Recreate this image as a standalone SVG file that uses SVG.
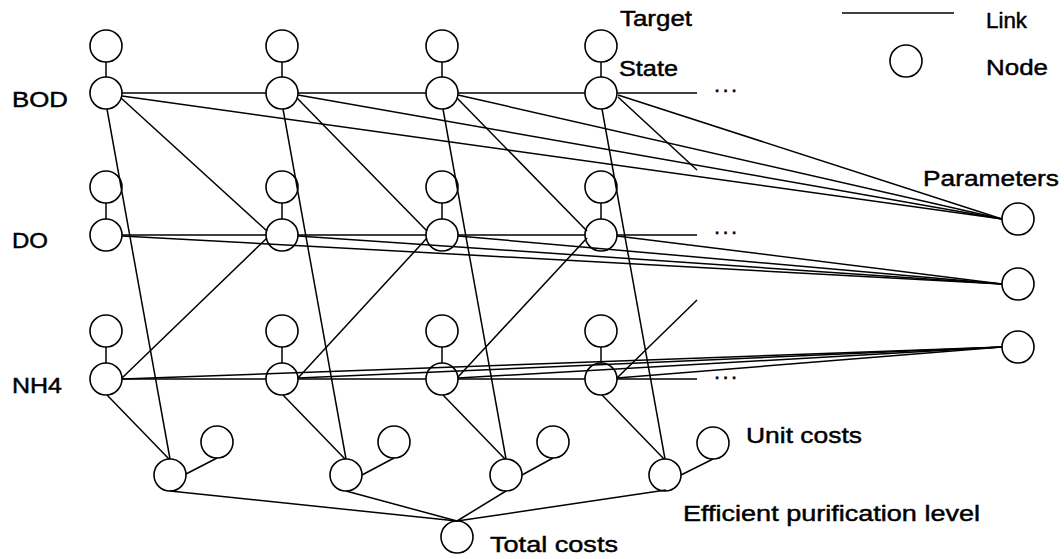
<svg xmlns="http://www.w3.org/2000/svg" width="1064" height="559" viewBox="0 0 1064 559">
<style>
.n{fill:none;stroke:#000;stroke-width:1.6}
.c line{stroke:#000;stroke-width:1.5;fill:none}
text{font-family:"Liberation Sans",Arial,sans-serif;font-size:22px;fill:#000;stroke:#000;stroke-width:0.45}
</style>
<rect width="1064" height="559" fill="#fff"/>
<g id="connectors" class="c">
<!-- target-state -->
<line x1="106" y1="62" x2="106" y2="77"/><line x1="282" y1="62" x2="282" y2="77"/><line x1="442" y1="62" x2="442" y2="77"/><line x1="601" y1="62" x2="601" y2="77"/>
<line x1="106" y1="203" x2="106" y2="219"/><line x1="282" y1="203" x2="282" y2="219"/><line x1="442" y1="203" x2="442" y2="219"/><line x1="601" y1="203" x2="601" y2="219"/>
<line x1="106" y1="347" x2="106" y2="363"/><line x1="282" y1="347" x2="282" y2="363"/><line x1="442" y1="347" x2="442" y2="363"/><line x1="601" y1="347" x2="601" y2="363"/>
<!-- rows -->
<line x1="122" y1="93" x2="266" y2="93"/><line x1="298" y1="93" x2="426" y2="93"/><line x1="458" y1="93" x2="585" y2="93"/><line x1="617" y1="93" x2="697" y2="93"/>
<line x1="122" y1="235" x2="266" y2="235"/><line x1="298" y1="235" x2="426" y2="235"/><line x1="458" y1="235" x2="585" y2="235"/><line x1="617" y1="235" x2="697" y2="235"/>
<line x1="122" y1="379" x2="266" y2="379"/><line x1="298" y1="379" x2="426" y2="379"/><line x1="458" y1="379" x2="585" y2="379"/><line x1="617" y1="379" x2="697" y2="379"/>
<!-- BOD -> next DO -->
<line x1="121" y1="98" x2="267" y2="231"/><line x1="297" y1="98" x2="427" y2="231"/><line x1="457" y1="98" x2="587" y2="231"/><line x1="618" y1="97" x2="697" y2="170"/>
<!-- NH4 -> next DO -->
<line x1="122" y1="378" x2="267" y2="238"/><line x1="298" y1="378" x2="427" y2="238"/><line x1="458" y1="377" x2="587" y2="238"/><line x1="617" y1="378" x2="697" y2="300"/>
<!-- BOD -> cost -->
<line x1="107" y1="109" x2="170" y2="459"/><line x1="283" y1="109" x2="346" y2="459"/><line x1="443" y1="109" x2="506" y2="459"/><line x1="602" y1="109" x2="665" y2="459"/>
<!-- NH4 -> cost -->
<line x1="107" y1="395" x2="169" y2="459"/><line x1="283" y1="395" x2="345" y2="459"/><line x1="443" y1="395" x2="505" y2="459"/><line x1="602" y1="395" x2="664" y2="459"/>
<!-- cost -> unit -->
<line x1="186" y1="474" x2="217" y2="458"/><line x1="362" y1="475" x2="394" y2="458"/><line x1="522" y1="475" x2="553" y2="458"/><line x1="681" y1="475" x2="713" y2="459"/>
<!-- cost -> total -->
<line x1="170" y1="491" x2="457" y2="521"/><line x1="346" y1="491" x2="457" y2="521"/><line x1="506" y1="491" x2="457" y2="521"/><line x1="666" y1="490" x2="457" y2="521"/>
<!-- to parameters -->
<line x1="122" y1="96" x2="1002" y2="219"/><line x1="298" y1="95" x2="1002" y2="219"/><line x1="458" y1="95" x2="1002" y2="219"/><line x1="618" y1="95" x2="1002" y2="219"/>
<line x1="122" y1="236" x2="1002" y2="284"/><line x1="298" y1="236" x2="1002" y2="284"/><line x1="458" y1="236" x2="1002" y2="284"/><line x1="617" y1="236" x2="1002" y2="284"/>
<line x1="122" y1="379" x2="1002" y2="347"/><line x1="298" y1="378" x2="1002" y2="347"/><line x1="458" y1="378" x2="1002" y2="347"/><line x1="617" y1="378" x2="1002" y2="347"/>
<!-- legend link -->
<line x1="842" y1="13" x2="954" y2="13"/>
</g>
<g id="bod-t1"><circle class="n" cx="106" cy="46" r="16"/></g>
<g id="bod-t2"><circle class="n" cx="282" cy="46" r="16"/></g>
<g id="bod-t3"><circle class="n" cx="442" cy="46" r="16"/></g>
<g id="bod-t4"><circle class="n" cx="601" cy="46" r="16"/></g>
<g id="bod-s1"><circle class="n" cx="106" cy="93" r="16"/></g>
<g id="bod-s2"><circle class="n" cx="282" cy="93" r="16"/></g>
<g id="bod-s3"><circle class="n" cx="442" cy="93" r="16"/></g>
<g id="bod-s4"><circle class="n" cx="601" cy="93" r="16"/></g>
<g id="do-t1"><circle class="n" cx="106" cy="187" r="16"/></g>
<g id="do-t2"><circle class="n" cx="282" cy="187" r="16"/></g>
<g id="do-t3"><circle class="n" cx="442" cy="187" r="16"/></g>
<g id="do-t4"><circle class="n" cx="601" cy="187" r="16"/></g>
<g id="do-s1"><circle class="n" cx="106" cy="235" r="16"/></g>
<g id="do-s2"><circle class="n" cx="282" cy="235" r="16"/></g>
<g id="do-s3"><circle class="n" cx="442" cy="235" r="16"/></g>
<g id="do-s4"><circle class="n" cx="601" cy="235" r="16"/></g>
<g id="nh4-t1"><circle class="n" cx="106" cy="331" r="16"/></g>
<g id="nh4-t2"><circle class="n" cx="282" cy="331" r="16"/></g>
<g id="nh4-t3"><circle class="n" cx="442" cy="331" r="16"/></g>
<g id="nh4-t4"><circle class="n" cx="601" cy="331" r="16"/></g>
<g id="nh4-s1"><circle class="n" cx="106" cy="379" r="16"/></g>
<g id="nh4-s2"><circle class="n" cx="282" cy="379" r="16"/></g>
<g id="nh4-s3"><circle class="n" cx="442" cy="379" r="16"/></g>
<g id="nh4-s4"><circle class="n" cx="601" cy="379" r="16"/></g>
<g id="cost1"><circle class="n" cx="170" cy="475" r="16"/></g>
<g id="cost2"><circle class="n" cx="346" cy="475" r="16"/></g>
<g id="cost3"><circle class="n" cx="506" cy="475" r="16"/></g>
<g id="cost4"><circle class="n" cx="665" cy="475" r="16"/></g>
<g id="unit1"><circle class="n" cx="217" cy="442" r="16"/></g>
<g id="unit2"><circle class="n" cx="394" cy="442" r="16"/></g>
<g id="unit3"><circle class="n" cx="553" cy="442" r="16"/></g>
<g id="unit4"><circle class="n" cx="713" cy="443" r="16"/></g>
<g id="total"><circle class="n" cx="457" cy="537" r="16"/></g>
<g id="param1"><circle class="n" cx="1018" cy="219" r="16"/></g>
<g id="param2"><circle class="n" cx="1018" cy="284" r="16"/></g>
<g id="param3"><circle class="n" cx="1018" cy="347" r="16"/></g>
<g id="legend-node"><circle class="n" cx="906" cy="61" r="16"/></g>
<g id="labels">
<text x="620" y="26" textLength="72" lengthAdjust="spacingAndGlyphs">Target</text>
<text x="619" y="76" textLength="59" lengthAdjust="spacingAndGlyphs">State</text>
<text x="12" y="107" textLength="56" lengthAdjust="spacingAndGlyphs">BOD</text>
<text x="12" y="248" textLength="36" lengthAdjust="spacingAndGlyphs">DO</text>
<text x="12" y="393" textLength="50" lengthAdjust="spacingAndGlyphs">NH4</text>
<text x="986" y="28" textLength="41" lengthAdjust="spacingAndGlyphs">Link</text>
<text x="986" y="75" textLength="62" lengthAdjust="spacingAndGlyphs">Node</text>
<text x="923" y="186" textLength="136" lengthAdjust="spacingAndGlyphs">Parameters</text>
<text x="746" y="443" textLength="116" lengthAdjust="spacingAndGlyphs">Unit costs</text>
<text x="683" y="521" textLength="297" lengthAdjust="spacingAndGlyphs">Efficient purification level</text>
<text x="490" y="552" textLength="128" lengthAdjust="spacingAndGlyphs">Total costs</text>
<text x="714" y="92" textLength="23" lengthAdjust="spacing">...</text>
<text x="714" y="234" textLength="23" lengthAdjust="spacing">...</text>
<text x="714" y="379" textLength="23" lengthAdjust="spacing">...</text>
</g>
</svg>
